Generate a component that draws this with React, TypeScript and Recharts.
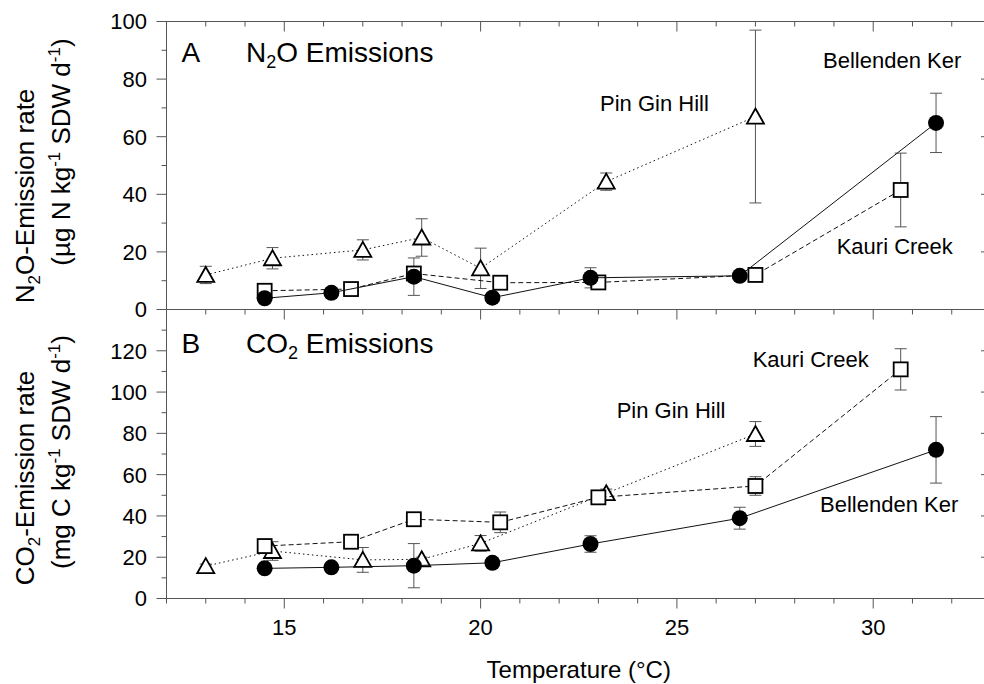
import React from 'react';
import { ScatterChart, Scatter, XAxis, YAxis, ErrorBar, Label } from 'recharts';

// ---------- data ----------
const tempBK = [14.5, 16.2, 18.3, 20.3, 22.8, 26.6, 31.6];
const tempKC = [14.5, 16.7, 18.3, 20.5, 23.0, 27.0, 30.7];
const tempPG = [13.0, 14.7, 17.0, 18.5, 20.0, 23.2, 27.0];

const n2oBK = [3.9, 5.8, 11.4, 4.1, 11.0, 11.7, 64.8];
const n2oBKErr = [1.0, 1.5, 6.5, 1.0, 3.5, 1.0, 10.3];
const n2oKC = [6.5, 7.1, 12.5, 9.3, 9.4, 12.0, 41.5];
const n2oKCErr = [1.5, 1.5, 1.5, 1.0, 1.5, 1.0, 12.8];
const n2oPG = [12.0, 17.8, 20.7, 25.0, 14.3, 44.4, 67.0];
const n2oPGErr = [3.0, 3.7, 3.5, 6.5, 7.0, 3.0, 30.0];

const co2BK = [14.6, 15.1, 15.9, 17.3, 26.4, 38.9, 72.0];
const co2BKErr = [1.0, 1.0, 10.7, 1.0, 4.0, 5.3, 16.1];
const co2KC = [25.4, 27.5, 38.4, 36.9, 49.0, 54.5, 111.0];
const co2KCErr = [1.0, 1.0, 1.0, 5.0, 2.0, 4.5, 10.0];
const co2PG = [15.7, 23.0, 18.7, 19.0, 26.7, 51.0, 79.7];
const co2PGErr = [1.0, 4.5, 6.0, 1.0, 3.8, 2.0, 6.0];

const xTicks = [12, 13, 14, 15, 16, 17, 18, 19, 20, 21, 22, 23, 24, 25, 26, 27, 28, 29, 30, 31, 32, 33];
const xMajor = [15, 20, 25, 30];
const yTicksA = [0, 10, 20, 30, 40, 50, 60, 70, 80, 90, 100];
const yMajorA = [0, 20, 40, 60, 80, 100];
const yTicksB = [0, 10, 20, 30, 40, 50, 60, 70, 80, 90, 100, 110, 120, 130];
const yMajorB = [0, 20, 40, 60, 80, 100, 120];

const zip = (xs: number[], ys: number[], es: number[]) =>
  xs.map((x, i) => ({ x, y: ys[i], err: es[i] }));

const dataA = {
  bk: zip(tempBK, n2oBK, n2oBKErr),
  kc: zip(tempKC, n2oKC, n2oKCErr),
  pg: zip(tempPG, n2oPG, n2oPGErr),
};
const dataB = {
  bk: zip(tempBK, co2BK, co2BKErr),
  kc: zip(tempKC, co2KC, co2KCErr),
  pg: zip(tempPG, co2PG, co2PGErr),
};

// ---------- styles ----------
const FONT = '"Liberation Sans", Arial, sans-serif';
const AX = '#555';
const ERR = '#555';

const CircleShape = (p: any) => <circle cx={p.cx} cy={p.cy} r={8} fill="#000" />;
const SquareShape = (p: any) => (
  <rect x={p.cx - 7} y={p.cy - 7} width={14} height={14} fill="#fff" stroke="#000" strokeWidth={1.8} />
);
const TriShape = (p: any) => (
  <polygon
    points={`${p.cx},${p.cy - 8} ${p.cx + 8.5},${p.cy + 7} ${p.cx - 8.5},${p.cy + 7}`}
    fill="#fff"
    stroke="#000"
    strokeWidth={1.8}
    strokeLinejoin="miter"
  />
);

const bottomTick = (labels: boolean) => (p: any) => {
  const v = p.payload.value;
  const major = xMajor.includes(v);
  return (
    <g>
      <line x1={p.x} x2={p.x} y1={p.y} y2={p.y + (major ? 10 : 5)} stroke={AX} strokeWidth={1} />
      {labels && major && (
        <text x={p.x} y={p.y + 36} textAnchor="middle" fontSize={22} fill="#000" fontFamily={FONT}>
          {v}
        </text>
      )}
    </g>
  );
};
const topTick = (p: any) => {
  const v = p.payload.value;
  const major = xMajor.includes(v);
  return <line x1={p.x} x2={p.x} y1={p.y} y2={p.y + (major ? 10 : 5)} stroke={AX} strokeWidth={1} />;
};
const leftTick = (majors: number[]) => (p: any) => {
  const v = p.payload.value;
  const major = majors.includes(v);
  return (
    <g>
      <line x1={p.x - (major ? 10 : 5)} x2={p.x} y1={p.y} y2={p.y} stroke={AX} strokeWidth={1} />
      {major && (
        <text x={p.x - 19.5} y={p.y} dy="0.36em" textAnchor="end" fontSize={22} fill="#000" fontFamily={FONT}>
          {v}
        </text>
      )}
    </g>
  );
};
const rightTick = (majors: number[]) => (p: any) => {
  const v = p.payload.value;
  const major = majors.includes(v);
  return <line x1={p.x - (major ? 10 : 5)} x2={p.x} y1={p.y} y2={p.y} stroke={AX} strokeWidth={1} />;
};

const lineBK = { stroke: '#111', strokeWidth: 1 };
const lineKC = { stroke: '#111', strokeWidth: 1, strokeDasharray: '5 3' };
const linePG = { stroke: '#111', strokeWidth: 1, strokeDasharray: '1.5 3' };

const Series = (d: any, xId: string, yId: string) => [
  <Scatter key="pg" data={d.pg} xAxisId={xId} yAxisId={yId} line={linePG} lineType="joint" shape={TriShape} isAnimationActive={false}>
    <ErrorBar dataKey="err" direction="y" width={6} stroke={ERR} strokeWidth={1} />
  </Scatter>,
  <Scatter key="kc" data={d.kc} xAxisId={xId} yAxisId={yId} line={lineKC} lineType="joint" shape={SquareShape} isAnimationActive={false}>
    <ErrorBar dataKey="err" direction="y" width={6} stroke={ERR} strokeWidth={1} />
  </Scatter>,
  <Scatter key="bk" data={d.bk} xAxisId={xId} yAxisId={yId} line={lineBK} lineType="joint" shape={CircleShape} isAnimationActive={false}>
    <ErrorBar dataKey="err" direction="y" width={6} stroke={ERR} strokeWidth={1} />
  </Scatter>,
];

const Sub = ({ children }: any) => (
  <>
    <tspan fontSize="0.65em" dy="0.28em">{children}</tspan>
    <tspan dy="-0.18em"> </tspan>
  </>
);

export default function App() {
  return (
    <div
      style={{
        position: 'fixed',
        left: 0,
        top: 0,
        width: 984,
        height: 684,
        overflow: 'hidden',
        background: '#fff',
        fontFamily: FONT,
      }}
    >
      {/* Panel A */}
      <div style={{ position: 'absolute', left: 0, top: 0 }}>
        <ScatterChart width={1000} height={330} margin={{ top: 0, right: 0, bottom: 0, left: 0 }}>
          <XAxis xAxisId="b" dataKey="x" type="number" domain={[12, 33]} allowDataOverflow ticks={xTicks} interval={0}
            height={20.5} tickSize={0} tickMargin={0} tickLine={false} axisLine={{ stroke: AX }} tick={bottomTick(false)} />
          <XAxis xAxisId="t" orientation="top" dataKey="x" type="number" domain={[12, 33]} allowDataOverflow ticks={xTicks} interval={0}
            height={21.5} tickSize={0} tickMargin={0} tickLine={false} axisLine={{ stroke: AX }} tick={topTick} />
          <YAxis yAxisId="l" dataKey="y" type="number" domain={[0, 100]} allowDataOverflow ticks={yTicksA} interval={0}
            width={166.5} tickSize={0} tickMargin={0} tickLine={false} axisLine={{ stroke: AX }} tick={leftTick(yMajorA)} />
          <YAxis yAxisId="r" orientation="right" dataKey="y" type="number" domain={[0, 100]} allowDataOverflow ticks={yTicksA} interval={0}
            width={9} tickSize={0} tickMargin={0} tickLine={false} axisLine={{ stroke: AX }} tick={rightTick(yMajorA)} />
          {Series(dataA, 'b', 'l')}
        </ScatterChart>
      </div>

      {/* Panel B */}
      <div style={{ position: 'absolute', left: 0, top: 0 }}>
        <ScatterChart width={1000} height={684} margin={{ top: 309.5, right: 0, bottom: 0, left: 0 }}>
          <XAxis xAxisId="b" dataKey="x" type="number" domain={[12, 33]} allowDataOverflow ticks={xTicks} interval={0}
            height={85.5} tickSize={0} tickMargin={0} tickLine={false} axisLine={{ stroke: AX }} tick={bottomTick(true)}>
            <Label value="Temperature (°C)" position="insideBottom" offset={6} fontSize={24} fill="#000" fontFamily={FONT} />
          </XAxis>
          <YAxis yAxisId="l" dataKey="y" type="number" domain={[0, 140]} allowDataOverflow ticks={yTicksB} interval={0}
            width={166.5} tickSize={0} tickMargin={0} tickLine={false} axisLine={{ stroke: AX }} tick={leftTick(yMajorB)} />
          <YAxis yAxisId="r" orientation="right" dataKey="y" type="number" domain={[0, 140]} allowDataOverflow ticks={yTicksB} interval={0}
            width={9} tickSize={0} tickMargin={0} tickLine={false} axisLine={{ stroke: AX }} tick={rightTick(yMajorB)} />
          {Series(dataB, 'b', 'l')}
        </ScatterChart>
      </div>

      {/* Annotations */}
      <svg width={984} height={684} style={{ position: 'absolute', left: 0, top: 0, pointerEvents: 'none' }} fontFamily={FONT} fill="#000">
        <text x={181.5} y={61.5} fontSize={28}>A</text>
        <text x={246} y={61.5} fontSize={28}>
          N<tspan fontSize={18} dy={6}>2</tspan><tspan dy={-6}>O Emissions</tspan>
        </text>
        <text x={181.5} y={353} fontSize={28}>B</text>
        <text x={246} y={353} fontSize={28}>
          CO<tspan fontSize={18} dy={6}>2</tspan><tspan dy={-6}> Emissions</tspan>
        </text>

        <text x={600} y={110.5} fontSize={22}>Pin Gin Hill</text>
        <text x={823} y={68.3} fontSize={22}>Bellenden Ker</text>
        <text x={836.7} y={254} fontSize={22}>Kauri Creek</text>

        <text x={752.7} y={367.3} fontSize={22}>Kauri Creek</text>
        <text x={616.7} y={418.3} fontSize={22}>Pin Gin Hill</text>
        <text x={820} y={511.7} fontSize={22}>Bellenden Ker</text>

        <text transform="translate(33.5,196) rotate(-90)" textAnchor="middle" fontSize={26}>
          N<tspan fontSize={17} dy={6}>2</tspan><tspan dy={-6}>O-Emission rate</tspan>
        </text>
        <text transform="translate(69.5,152) rotate(-90)" textAnchor="middle" fontSize={26}>
          (µg N kg<tspan fontSize={17} dy={-10}>-1</tspan><tspan dy={10}> SDW d</tspan><tspan fontSize={17} dy={-10}>-1</tspan><tspan dy={10}>)</tspan>
        </text>
        <text transform="translate(33.5,478) rotate(-90)" textAnchor="middle" fontSize={26}>
          CO<tspan fontSize={17} dy={6}>2</tspan><tspan dy={-6}>-Emission rate</tspan>
        </text>
        <text transform="translate(69.5,452) rotate(-90)" textAnchor="middle" fontSize={26}>
          (mg C kg<tspan fontSize={17} dy={-10}>-1</tspan><tspan dy={10}> SDW d</tspan><tspan fontSize={17} dy={-10}>-1</tspan><tspan dy={10}>)</tspan>
        </text>
      </svg>
    </div>
  );
}
